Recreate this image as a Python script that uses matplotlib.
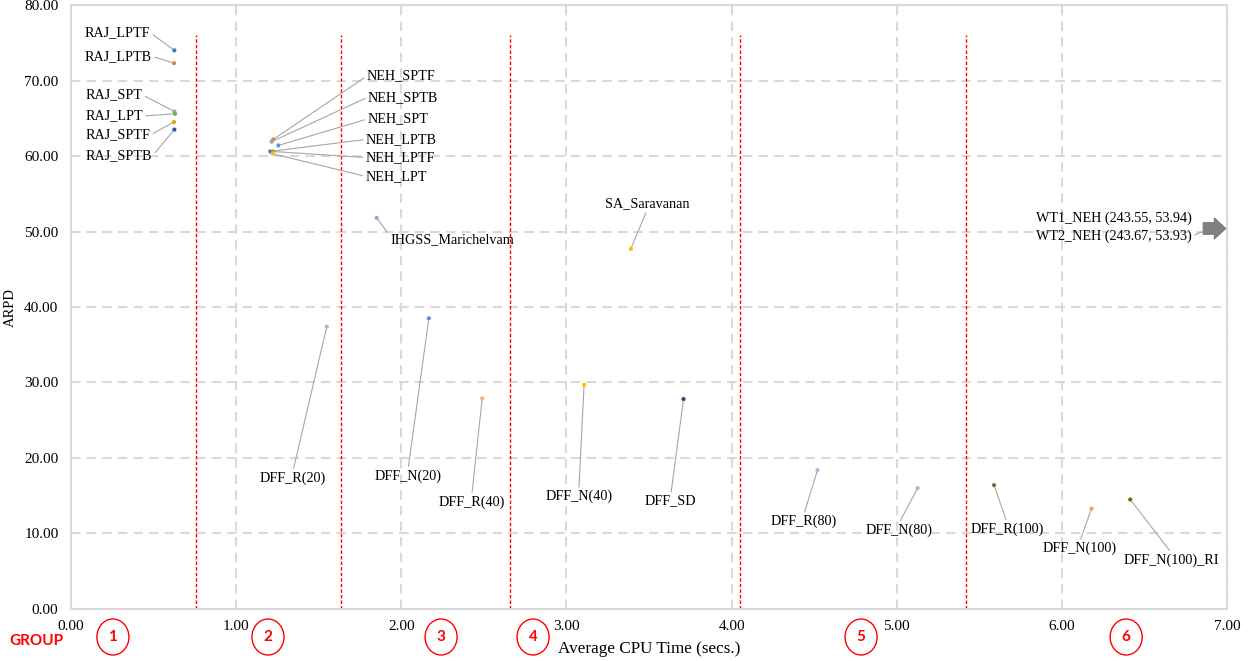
import matplotlib
matplotlib.use("Agg")
import matplotlib.pyplot as plt
from matplotlib.patches import Ellipse
from matplotlib.transforms import blended_transform_factory
from matplotlib.ticker import MultipleLocator, FormatStrFormatter

# data
names = ["RAJ_LPTF", "RAJ_LPTB", "RAJ_SPT", "RAJ_LPT", "RAJ_SPTF", "RAJ_SPTB",
         "NEH_SPTF", "NEH_SPTB", "NEH_SPT", "NEH_LPTB", "NEH_LPTF", "NEH_LPT",
         "IHGSS_Marichelvam", "SA_Saravanan",
         "DFF_R(20)", "DFF_N(20)", "DFF_R(40)", "DFF_N(40)", "DFF_SD",
         "DFF_R(80)", "DFF_N(80)", "DFF_R(100)", "DFF_N(100)", "DFF_N(100)_RI"]
cpu = [0.626, 0.624, 0.626, 0.630, 0.624, 0.626,
       1.225, 1.215, 1.256, 1.207, 1.223, 1.221,
       1.851, 3.390,
       1.549, 2.167, 2.490, 3.107, 3.709,
       4.520, 5.126, 5.589, 6.180, 6.414]
arpd = [74.0, 72.3, 65.9, 65.6, 64.5, 63.5,
        62.2, 61.9, 61.4, 60.6, 60.6, 60.3,
        51.8, 47.7,
        37.4, 38.5, 27.9, 29.7, 27.8,
        18.4, 16.0, 16.4, 13.3, 14.5]
offchart = ["WT1_NEH (243.55, 53.94)", "WT2_NEH (243.67, 53.93)"]
group_bounds = [0.757, 1.635, 2.659, 4.052, 5.421]
group_ids = ["1", "2", "3", "4", "5", "6"]

# styles / layout
colors = ["#4472c4", "#ed7d31", "#a5a5a5", "#70ad47", "#e0a800", "#2f5597",
          "#ed7d31", "#a5a5a5", "#5b9bd5", "#4472c4", "#70ad47", "#ffc000",
          "#8faadc", "#ffc000",
          "#b7b7b7", "#698ed0", "#f4b183", "#ffc000", "#264478",
          "#9dc3e6", "#b7b7b7", "#548235", "#f4a460", "#7f6000"]
lab_x = [0.085, 0.085, 0.088, 0.088, 0.088, 0.090,
         1.792, 1.798, 1.794, 1.786, 1.782, 1.784,
         1.932, 3.488,
         1.344, 2.041, 2.427, 3.075, 3.632,
         4.437, 5.014, 5.668, 6.108, 6.665]
lab_y = [76.3, 73.2, 68.1, 65.3, 62.8, 60.0,
         70.6, 67.8, 64.9, 62.2, 59.8, 57.3,
         48.9, 53.7,
         17.35, 17.6, 14.2, 14.9, 14.3,
         11.56, 10.46, 10.55, 8.04, 6.49]
lab_ha = ["left"] * 6 + ["left"] * 6 + ["left", "center"] + ["center"] * 10
lab_rel = [(1, 0.5)] * 6 + [(0, 0.5)] * 6 + [(0, 0.8), (0.5, 0)] + [(0.5, 1)] * 10
group_pos = [0.254, 1.193, 2.241, 2.798, 4.784, 6.389]

serif = ["Liberation Serif", "DejaVu Serif"]
grey = "#d9d9d9"

fig = plt.figure(figsize=(12.58, 6.61), dpi=100)
ax = fig.add_axes([0.0564, 0.0787, 0.9190, 0.9137])

ax.set_xlim(0, 7)
ax.set_ylim(0, 80)
ax.xaxis.set_major_locator(MultipleLocator(1))
ax.yaxis.set_major_locator(MultipleLocator(10))
ax.xaxis.set_major_formatter(FormatStrFormatter("%.2f"))
ax.yaxis.set_major_formatter(FormatStrFormatter("%.2f"))
ax.set_axisbelow(True)
ax.grid(True, color=grey, lw=1.5, linestyle=(0, (4.5, 3)))
for s in ax.spines.values():
    s.set_color(grey)
    s.set_linewidth(1.5)
ax.tick_params(length=0, labelsize=11)
ax.tick_params(axis="x", pad=8)
ax.tick_params(axis="y", pad=9)
for t in ax.get_xticklabels() + ax.get_yticklabels():
    t.set_family(serif)

ax.set_xlabel("Average CPU Time (secs.)", family=serif, fontsize=12.3, labelpad=6)
ax.set_ylabel("ARPD", family=serif, fontsize=10.5, labelpad=5)

# group boundaries
ax.vlines(group_bounds, 0, 76, colors="red", lw=1.0, linestyles=(0, (2.5, 1.5)))

# points and labels
ax.scatter(cpu, arpd, s=9, c=colors, zorder=3, linewidths=0)
for i, n in enumerate(names):
    ax.annotate(n, xy=(cpu[i], arpd[i]), xytext=(lab_x[i], lab_y[i]),
                ha=lab_ha[i], va="center", fontsize=10.2, family=serif,
                arrowprops=dict(arrowstyle="-", color="#a6a6a6", lw=0.8,
                                relpos=lab_rel[i], shrinkA=0, shrinkB=1.5))

# off-chart points: arrow at right edge
ax.annotate("", xy=(6.993, 50.4), xytext=(6.855, 50.4),
            arrowprops=dict(arrowstyle="simple,head_length=0.6,head_width=1.1,tail_width=0.6",
                            fc="#808080", ec="#6f6f6f", lw=0.6, mutation_scale=14,
                            shrinkA=0, shrinkB=0))
ax.text(6.788, 51.8, offchart[0], ha="right", va="center", fontsize=10.2, family=serif)
ax.annotate(offchart[1], xy=(6.855, 50.0), xytext=(6.788, 49.4), ha="right", va="center",
            fontsize=10.2, family=serif,
            arrowprops=dict(arrowstyle="-", color="#a6a6a6", lw=0.8, relpos=(1, 0.5),
                            shrinkA=0, shrinkB=0))

# group markers below the axis
tr = blended_transform_factory(ax.transData, ax.transAxes)
for gx, gid in zip(group_pos, group_ids):
    ax.add_patch(Ellipse((gx, -0.0464), 0.194, 0.0596, transform=tr, fill=False,
                         ec="red", lw=1.0, clip_on=False))
    ax.text(gx, -0.0464, gid, transform=tr, ha="center", va="center", color="red",
            fontsize=11, fontweight="bold", family=["Lato", "DejaVu Sans"])
fig.text(36 / 1258, 1 - 641 / 661, "GROUP", ha="center", va="center", color="red",
         fontsize=11, fontweight="bold", family=["Lato", "DejaVu Sans"])

fig.savefig("out.png", dpi=100)
